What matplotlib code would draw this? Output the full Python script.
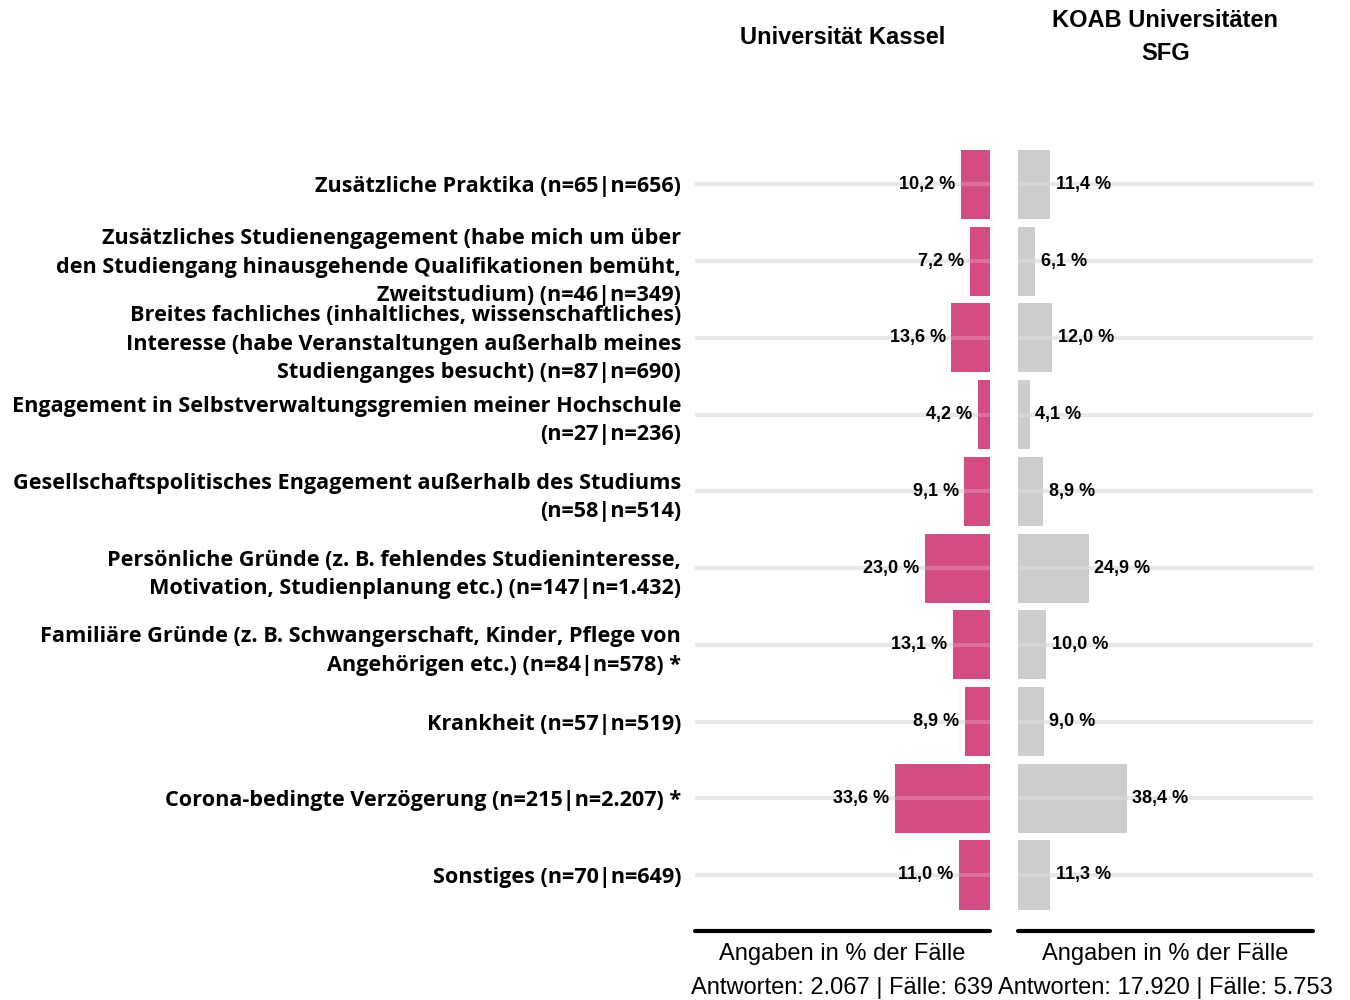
import numpy as np
import matplotlib.pyplot as plt

# categories (top to bottom)
labels = [
    "Zusätzliche Praktika (n=65|n=656)",
    "Zusätzliches Studienengagement (habe mich um über\nden Studiengang hinausgehende Qualifikationen bemüht,\nZweitstudium) (n=46|n=349)",
    "Breites fachliches (inhaltliches, wissenschaftliches)\nInteresse (habe Veranstaltungen außerhalb meines\nStudienganges besucht) (n=87|n=690)",
    "Engagement in Selbstverwaltungsgremien meiner Hochschule\n(n=27|n=236)",
    "Gesellschaftspolitisches Engagement außerhalb des Studiums\n(n=58|n=514)",
    "Persönliche Gründe (z. B. fehlendes Studieninteresse,\nMotivation, Studienplanung etc.) (n=147|n=1.432)",
    "Familiäre Gründe (z. B. Schwangerschaft, Kinder, Pflege von\nAngehörigen etc.) (n=84|n=578) *",
    "Krankheit (n=57|n=519)",
    "Corona-bedingte Verzögerung (n=215|n=2.207) *",
    "Sonstiges (n=70|n=649)",
]
kassel = [10.2, 7.2, 13.6, 4.2, 9.1, 23.0, 13.1, 8.9, 33.6, 11.0]
koab = [11.4, 6.1, 12.0, 4.1, 8.9, 24.9, 10.0, 9.0, 38.4, 11.3]

titles = ["Universität Kassel", "KOAB Universitäten\nSFG"]
footer = ["Antworten: 2.067 | Fälle: 639", "Antworten: 17.920 | Fälle: 5.753"]

pink = "#d44c84"
grey = "#cdcdcd"

fig = plt.figure(figsize=(13.5, 10), dpi=100)
ax1 = fig.add_axes([695/1350, 0.069, 295/1350, 0.785])
ax2 = fig.add_axes([1018/1350, 0.069, 295/1350, 0.785])

y = np.arange(len(labels))

def fmt(v):
    return f"{v:.1f} %".replace(".", ",")

for ax, vals, col, left in [(ax1, kassel, pink, True), (ax2, koab, grey, False)]:
    for yi in y:
        ax.axhline(yi, color="#e3e3e3", lw=3, zorder=1)
        ax.axhline(yi, color="white", lw=3, alpha=0.2, zorder=3)
    ax.barh(y, vals, height=0.9, color=col, zorder=2)
    for yi, v in zip(y, vals):
        ax.annotate(fmt(v), (v, yi), xytext=(-4 if left else 4, 0),
                    textcoords="offset points", va="center",
                    ha="right" if left else "left",
                    fontsize=13, fontweight="bold", family="Liberation Sans")
    ax.set_xlim(0, 104)
    ax.set_ylim(9.73, -0.5)
    for s in ["top", "left", "right"]:
        ax.spines[s].set_visible(False)
    ax.spines["bottom"].set_linewidth(3)
    ax.spines["bottom"].set_capstyle("round")
    ax.set_xticks([])
    ax.tick_params(axis="y", length=0)

ax1.invert_xaxis()
ax1.set_yticks(y)
ax1.set_yticklabels(labels, fontsize=15.6, fontweight="bold", family="Open Sans",
                    linespacing=1.46)
ax1.tick_params(axis="y", pad=10)
ax2.set_yticks([])

for ax, t, f in zip([ax1, ax2], titles, footer):
    cx = (ax.get_position().x0 + ax.get_position().x1) / 2
    fig.text(cx, 0.963, t, ha="center", va="center", fontsize=17,
             fontweight="bold", family="Liberation Sans", linespacing=1.55)
    fig.text(cx, 0.046, "Angaben in % der Fälle", ha="center", va="center",
             fontsize=17, family="Liberation Sans")
    fig.text(cx, 0.012, f, ha="center", va="center", fontsize=17,
             family="Liberation Sans")

plt.savefig("out.png", dpi=100)
